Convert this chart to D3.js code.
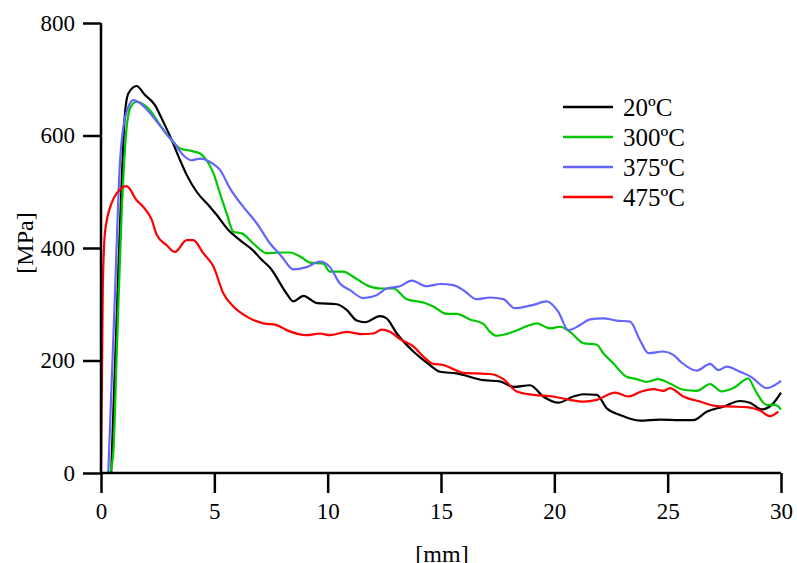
<!DOCTYPE html>
<html><head><meta charset="utf-8">
<script src="https://cdn.jsdelivr.net/npm/d3@7"></script>
<style>body{margin:0;background:#fff}svg{display:block}svg text{font-family:"Liberation Serif","Times New Roman",Times,"DejaVu Serif",serif !important;fill:#000}</style>
</head><body>
<script>
const seriesNames = ["20ºC","300ºC","375ºC","475ºC"];
const seriesColors = ["#000000","#00c800","#6464ff","#ff0000"];
const xTicks = [0,5,10,15,20,25,30];
const yTicks = [0,200,400,600,800];

const s20x = [0.45,0.8,1.06,1.21,1.57,1.94,2.38,2.68,3.12,3.49,3.78,4.22,4.81,5.1,5.62,6.13,6.7,7.09,7.46,8.19,8.48,8.93,9.52,10.4,10.84,11.28,11.65,12.31,12.6,13.05,13.78,14.51,14.96,15.69,16.87,17.6,18.19,18.93,19.51,20.17,20.84,21.28,21.87,22.31,22.9,23.78,24.66,25.54,26.13,26.72,27.46,28.19,28.63,29.15,29.59,30.0];
const s20y = [0,400,640,675,688,672,654,630,592,556,530,500,473,459,432,414,396,379,365,319,305,315,302,300,290,271,268,279,275,248,216,192,180,177,165,163,153,156,136,125,136,140,139,115,103,93,95,94,94,109,118,128,125,113,121,143];

const s300x = [0.4,0.54,0.7,0.9,1.1,1.3,1.57,2.16,2.6,3.04,3.49,3.93,4.37,4.66,4.96,5.25,5.54,5.84,6.21,6.72,7.31,7.9,8.34,8.78,9.22,9.81,10.1,10.69,11.13,11.72,12.31,12.9,13.49,14.22,14.66,15.25,15.69,16.28,16.87,17.16,17.46,18.19,18.93,19.22,19.81,20.25,20.69,21.28,21.87,22.16,22.6,23.19,23.63,24.07,24.59,25.1,25.69,26.28,26.87,27.38,27.9,28.56,28.85,29.37,29.74,30.0];
const s300y = [0,35,220,450,600,650,660,645,619,595,577,573,568,556,533,497,462,429,426,408,391,392,392,385,374,372,358,358,349,334,328,328,309,303,296,283,283,273,265,251,244,251,263,266,257,260,251,231,228,213,195,171,167,162,167,159,148,146,158,145,151,168,148,121,121,113];

const s375x = [0.32,0.6,0.84,0.99,1.2,1.43,1.8,2.4,2.9,3.19,3.63,4.0,4.37,4.96,5.25,5.69,6.28,6.87,7.46,7.97,8.48,9.07,9.66,10.1,10.54,10.99,11.57,12.16,12.6,13.19,13.71,14.37,14.96,15.54,15.99,16.57,17.16,17.75,18.26,19.07,19.66,20.17,20.62,21.13,21.57,22.16,22.75,23.34,23.78,24.15,24.81,25.25,25.62,26.28,26.87,27.24,27.6,28.19,28.71,29.37,30.0];
const s375y = [0,300,555,616,650,663,655,628,602,589,565,556,559,549,539,506,473,444,408,385,362,366,376,366,337,325,311,316,328,332,342,332,336,334,325,309,312,309,293,299,305,287,254,263,273,275,271,269,236,213,216,210,196,182,194,183,189,180,170,151,164];

const s475x = [0.0,0.08,0.18,0.47,0.69,1.13,1.57,1.87,2.24,2.46,2.9,3.26,3.78,4.07,4.51,4.96,5.4,5.84,6.43,7.16,7.75,8.19,9.07,9.66,10.1,10.84,11.43,12.01,12.38,12.75,13.19,13.78,14.22,14.66,15.1,15.47,15.99,16.57,17.16,17.75,18.34,19.07,19.96,20.69,21.28,21.87,22.68,23.26,23.85,24.37,24.81,25.1,25.69,26.43,27.16,27.9,28.49,29.07,29.51,29.88];
const s475y = [0,330,429,480,497,510,485,473,450,423,405,393,414,414,391,367,319,296,278,266,263,254,245,248,245,251,247,248,255,251,238,225,207,194,192,186,178,177,176,167,145,139,136,130,127,130,143,136,145,149,146,151,136,127,119,118,117,111,101,109];

const series = [
  {name: seriesNames[0], color: seriesColors[0], x: s20x, y: s20y},
  {name: seriesNames[1], color: seriesColors[1], x: s300x, y: s300y},
  {name: seriesNames[2], color: seriesColors[2], x: s375x, y: s375y},
  {name: seriesNames[3], color: seriesColors[3], x: s475x, y: s475y}
];

const W = 797, H = 563;
const svg = d3.select("body").append("svg").attr("width", W).attr("height", H);
const x = d3.scaleLinear().domain([0,30]).range([101,781]);
const y = d3.scaleLinear().domain([0,800]).range([473,23]);

const line = d3.line().x(d=>x(d[0])).y(d=>y(d[1])).curve(d3.curveMonotoneX);
const g = svg.append("g");
series.forEach(s=>{
  g.append("path").datum(s.x.map((v,i)=>[v,s.y[i]]))
    .attr("d", line).attr("fill","none").attr("stroke", s.color).attr("stroke-width",2.2)
    .attr("stroke-linejoin","round");
});

const xa = svg.append("g").attr("transform","translate(0,473)")
  .call(d3.axisBottom(x).tickValues(xTicks).tickSize(20).tickPadding(10).tickFormat(d3.format("d")));
const ya = svg.append("g").attr("transform","translate(101,0)")
  .call(d3.axisLeft(y).tickValues(yTicks).tickSize(18).tickPadding(8).tickFormat(d3.format("d")));
[xa,ya].forEach(a=>{
  a.attr("font-family",null);
  a.select(".domain").attr("stroke","#000").attr("stroke-width",2.5);
  a.selectAll(".tick line").attr("stroke","#000").attr("stroke-width",2.5);
  a.selectAll(".tick text").attr("font-size",23).attr("fill","#000");
});
xa.select(".domain").attr("d","M101,0H781");
ya.select(".domain").attr("d","M0,23V473");

svg.append("text").attr("x",442).attr("y",562).attr("text-anchor","middle")
  .attr("font-size",24).text("[mm]");
svg.append("text").attr("transform","translate(33,243) rotate(-90)").attr("text-anchor","middle")
  .attr("font-size",24).text("[MPa]");

const leg = svg.append("g");
series.forEach((s,i)=>{
  const yy = 107 + i*30;
  leg.append("line").attr("x1",563).attr("x2",613).attr("y1",yy).attr("y2",yy)
    .attr("stroke",s.color).attr("stroke-width",2.5);
  leg.append("text").attr("x",623).attr("y",yy+9).attr("font-size",25).text(s.name);
});
</script>
</body></html>
